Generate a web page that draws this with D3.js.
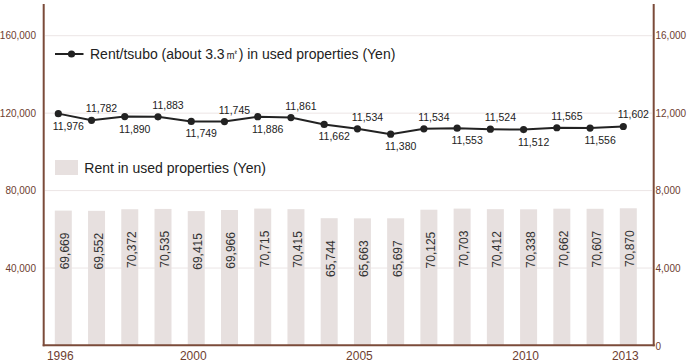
<!DOCTYPE html>
<html><head><meta charset="utf-8">
<script src="https://cdn.jsdelivr.net/npm/d3@7"></script>
<style>
html,body{margin:0;padding:0;background:#fff;}
svg{display:block;font-family:"Liberation Sans",Arial,sans-serif;}
</style></head>
<body>
<svg id="chart" width="690" height="364"></svg>
<script>
const years = [1996,1997,1998,1999,2000,2001,2002,2003,2004,2005,2006,2007,2008,2009,2010,2011,2012,2013];
const rentValues = [69669,69552,70372,70535,69415,69966,70715,70415,65744,65663,65697,70125,70703,70412,70338,70662,70607,70870];
const tsuboValues = [11976,11782,11890,11883,11749,11745,11886,11861,11662,11534,11380,11534,11553,11524,11512,11565,11556,11602];
const xTickLabels = [1996,2000,2005,2010,2013];
const leftTicks = [40000,80000,120000,160000];
const rightTicks = [0,4000,8000,12000,16000];
const legendLine = "Rent/tsubo (about 3.3㎡) in used properties (Yen)";
const legendBar = "Rent in used properties (Yen)";

const axisColor = "#7b4b3a", tickColor = "#6e4030", gridColor = "#ece5e5", barColor = "#e7e0df", lineColor = "#222";
const svg = d3.select("#chart");

const x = d3.scalePoint().domain(years).range([63.3, 628.3]);
const yL = d3.scaleLinear().domain([0,160000]).range([345.5,35.7]);
const yR = d3.scaleLinear().domain([0,16000]).range([345.5,35.7]);
const yLine = d3.scaleLinear().domain([11000,12000]).range([147.2,112.8]);

// grid
svg.append("g").selectAll("line").data(leftTicks).join("line")
  .attr("x1",45).attr("x2",652).attr("y1",d=>yL(d)).attr("y2",d=>yL(d))
  .attr("stroke",gridColor).attr("stroke-width",1);

// bars
const bw = 17;
svg.append("g").selectAll("rect").data(years).join("rect")
  .attr("x",(d)=>x(d)-bw/2).attr("width",bw)
  .attr("y",(d,i)=>yL(rentValues[i])).attr("height",(d,i)=>yL(0)-yL(rentValues[i]))
  .attr("fill",barColor);

// bar labels
svg.append("g").selectAll("text").data(years).join("text")
  .attr("transform",(d,i)=>`translate(${x(d)+1.8},${yL(rentValues[i])+22}) rotate(-90)`)
  .attr("text-anchor","end").attr("dy","0.35em")
  .attr("font-size",12).attr("fill","#333")
  .text((d,i)=>d3.format(",")(rentValues[i]));

// line
const pts = years.map((yr,i)=>[x(yr)-5, yLine(tsuboValues[i])]);
svg.append("path").datum(pts).attr("d",d3.line()).attr("fill","none")
  .attr("stroke",lineColor).attr("stroke-width",2);
svg.append("g").selectAll("circle").data(pts).join("circle")
  .attr("cx",d=>d[0]).attr("cy",d=>d[1]).attr("r",3.6).attr("fill",lineColor);
svg.append("g").selectAll("text").data(pts).join("text")
  .attr("x",d=>d[0]+10).attr("y",(d,i)=> i%2===1 ? d[1]-8 : d[1]+16)
  .attr("text-anchor","middle").attr("font-size",10.5).attr("fill","#222")
  .text((d,i)=>d3.format(",")(tsuboValues[i]));

// axes lines
svg.append("line").attr("x1",43.7).attr("x2",43.7).attr("y1",4).attr("y2",346.2).attr("stroke",axisColor).attr("stroke-width",2);
svg.append("line").attr("x1",653.7).attr("x2",653.7).attr("y1",4).attr("y2",346.2).attr("stroke",axisColor).attr("stroke-width",2);
svg.append("line").attr("x1",42.7).attr("x2",654.7).attr("y1",345.2).attr("y2",345.2).attr("stroke",axisColor).attr("stroke-width",2);

// left tick labels
svg.append("g").selectAll("text").data(leftTicks).join("text")
  .attr("x",36).attr("y",d=>yL(d)).attr("dy","0.35em").attr("text-anchor","end")
  .attr("font-size",10).attr("fill",tickColor).text(d=>d3.format(",")(d));
// right tick labels
svg.append("g").selectAll("text").data(rightTicks).join("text")
  .attr("x",655.5).attr("y",d=>yR(d)+(d===0?1.2:0)).attr("dy","0.35em").attr("text-anchor","start")
  .attr("font-size",10).attr("fill",tickColor).text(d=>d3.format(",")(d));
// x tick labels
svg.append("g").selectAll("text").data(xTickLabels).join("text")
  .attr("x",d=>x(d)-3).attr("y",360).attr("text-anchor","middle")
  .attr("font-size",12).attr("fill",tickColor).text(d=>d);

// legends
const lg = svg.append("g");
lg.append("line").attr("x1",55).attr("x2",83.5).attr("y1",54).attr("y2",54).attr("stroke",lineColor).attr("stroke-width",2);
lg.append("circle").attr("cx",71.5).attr("cy",54).attr("r",3.6).attr("fill",lineColor);
lg.append("text").attr("x",90).attr("y",58.5).attr("font-size",14).attr("fill","#222").text(legendLine);
lg.append("rect").attr("x",55).attr("y",160).attr("width",23).attr("height",15).attr("fill",barColor);
lg.append("text").attr("x",84.3).attr("y",172.5).attr("font-size",14).attr("fill","#222").text(legendBar);
</script>
</body></html>
